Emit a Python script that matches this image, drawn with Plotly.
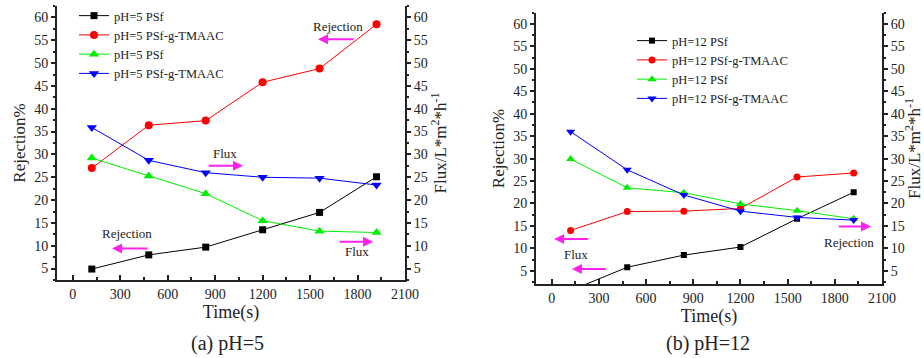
import plotly.graph_objects as go

time_s = [120, 480, 840, 1200, 1560, 1920]

# panel (a) pH=5
a_psf_rej = [4.9, 8.0, 9.7, 13.5, 17.3, 25.1]
a_tmaac_rej = [27.0, 36.4, 37.4, 45.8, 48.8, 58.5]
a_psf_flux = [29.2, 25.3, 21.4, 15.5, 13.2, 12.9]
a_tmaac_flux = [35.9, 28.7, 26.0, 25.0, 24.8, 23.3]

# panel (b) pH=12
b_psf_rej = [0.6, 5.8, 8.5, 10.3, 16.6, 22.5]
b_tmaac_rej = [14.0, 18.2, 18.3, 18.9, 25.9, 26.8]
b_psf_flux = [29.9, 23.5, 22.4, 19.9, 18.4, 16.6]
b_tmaac_flux = [36.0, 27.5, 21.9, 18.3, 16.9, 16.3]

names_a = ["pH=5 PSf", "pH=5 PSf-g-TMAAC", "pH=5 PSf", "pH=5 PSf-g-TMAAC"]
names_b = ["pH=12 PSf", "pH=12 PSf-g-TMAAC", "pH=12 PSf", "pH=12 PSf-g-TMAAC"]

colors = ["#000000", "#ff0000", "#00ee00", "#0000ff"]
symbols = ["square", "circle", "triangle-up", "triangle-down"]
sizes = [7, 8, 9, 9]

FONT = "Liberation Serif"
MAG = "#ff22ee"

fig = go.Figure()

series_a = [(a_psf_rej, "y"), (a_tmaac_rej, "y"), (a_psf_flux, "y2"), (a_tmaac_flux, "y2")]
series_b = [(b_psf_rej, "y3"), (b_tmaac_rej, "y3"), (b_psf_flux, "y4"), (b_tmaac_flux, "y4")]

for i, (vals, ya) in enumerate(series_a):
    fig.add_trace(go.Scatter(x=time_s, y=vals, xaxis="x", yaxis=ya, name=names_a[i],
                             mode="lines+markers", legend="legend",
                             line=dict(color=colors[i], width=1),
                             marker=dict(color=colors[i], symbol=symbols[i], size=sizes[i])))
for i, (vals, ya) in enumerate(series_b):
    fig.add_trace(go.Scatter(x=time_s, y=vals, xaxis="x2", yaxis=ya, name=names_b[i],
                             mode="lines+markers", legend="legend2",
                             line=dict(color=colors[i], width=1),
                             marker=dict(color=colors[i], symbol=symbols[i], size=sizes[i] - 1)))

W, H = 924, 358
tickfont = dict(family=FONT, size=14, color="#222")
titlefont = dict(family=FONT, size=17, color="#222")
xtitlefont = dict(family=FONT, size=18, color="#222")

def xax(domain, anchor):
    return dict(domain=domain, anchor=anchor, range=[-100, 2100], tickvals=list(range(0, 2101, 300)),
                showline=True, linecolor="#222", linewidth=2, ticks="inside", ticklen=5,
                tickcolor="#222", tickwidth=1.5, showgrid=False, zeroline=False, automargin=False,
                minor=dict(ticks="inside", ticklen=3, tickcolor="#222", dtick=150, tick0=0),
                tickfont=tickfont, title=dict(text="Time(s)", font=xtitlefont, standoff=0))

def yax(domain, anchor, rng, side, title, standoff, overlaying=None):
    d = dict(domain=domain, anchor=anchor, range=rng, side=side, automargin=False,
             tickvals=list(range(5, 61, 5)), showline=True, linecolor="#222", linewidth=2,
             ticks="outside", ticklen=4, tickcolor="#222", tickwidth=1.5,
             minor=dict(ticks="outside", ticklen=2, tickcolor="#222", dtick=2.5, tick0=0),
             showgrid=False, zeroline=False, tickfont=tickfont,
             title=dict(text=title, font=titlefont, standoff=standoff))
    if overlaying:
        d["overlaying"] = overlaying
    return d

dom_ax = [57 / W, 405 / W]
dom_ay = [1 - 280 / H, 1 - 6 / H]
dom_bx = [536 / W, 882 / W]
dom_by = [1 - 284.3 / H, 1 - 12.7 / H]

flux_title = "Flux/L*m<sup>2</sup>*h<sup>-1</sup>"

fig.update_layout(
    width=W, height=H, margin=dict(l=0, r=0, t=0, b=0, autoexpand=False),
    paper_bgcolor="white", plot_bgcolor="white",
    font=dict(family=FONT, color="#222"),
    xaxis=xax(dom_ax, "y"),
    yaxis=yax(dom_ay, "x", [2.5, 62.5], "left", "Rejection%", 4),
    yaxis2=yax(dom_ay, "x", [2.5, 62.5], "right", flux_title, 2, overlaying="y"),
    xaxis2=xax(dom_bx, "y3"),
    yaxis3=yax(dom_by, "x2", [2, 62.5], "left", "Rejection%", 4),
    yaxis4=yax(dom_by, "x2", [2, 62.5], "right", flux_title, 2, overlaying="y3"),
    legend=dict(x=74 / W, y=1 - 1 / H, xanchor="left", yanchor="top", bgcolor="rgba(0,0,0,0)",
                font=dict(family=FONT, size=12.5, color="#222"), tracegroupgap=0, itemwidth=30),
    legend2=dict(x=632 / W, y=1 - 26 / H, xanchor="left", yanchor="top", bgcolor="rgba(0,0,0,0)",
                 font=dict(family=FONT, size=12.5, color="#222"), tracegroupgap=0, itemwidth=30),
)

anns = []

def text(x, y, t, xr, yr):
    anns.append(dict(x=x, y=y, xref=xr, yref=yr, text=t, showarrow=False,
                     xanchor="center", yanchor="middle",
                     font=dict(family=FONT, size=13, color="#222")))

def arrow(x0, x1, y, xr, yr):
    anns.append(dict(x=x1, y=y, ax=x0, ay=y, xref=xr, yref=yr, axref=xr, ayref=yr, text="",
                     showarrow=True, arrowhead=2, arrowsize=1, arrowwidth=2, arrowcolor=MAG))

# panel (a)
text(1677, 58.1, "Rejection", "x", "y")
arrow(1784, 1550, 55.2, "x", "y")
text(963, 30.1, "Flux", "x", "y")
arrow(849, 1076, 27.5, "x", "y")
text(344, 12.6, "Rejection", "x", "y")
arrow(482, 248, 9.4, "x", "y")
text(1797, 8.7, "Flux", "x", "y")
arrow(1677, 1898, 10.9, "x", "y")

# panel (b)
arrow(242, 15, 12.1, "x2", "y3")
text(154, 8.6, "Flux", "x2", "y3")
arrow(354, 128, 5.4, "x2", "y3")
arrow(1815, 2030, 14.9, "x2", "y3")
text(1893, 11.3, "Rejection", "x2", "y3")

# panel captions
anns.append(dict(x=227 / W, y=1 - 343 / H, xref="paper", yref="paper", text="(a) pH=5",
                 xanchor="center", yanchor="middle",
                 showarrow=False, font=dict(family=FONT, size=20, color="#222")))
anns.append(dict(x=708 / W, y=1 - 343 / H, xref="paper", yref="paper", text="(b) pH=12",
                 xanchor="center", yanchor="middle",
                 showarrow=False, font=dict(family=FONT, size=20, color="#222")))

fig.update_layout(annotations=anns)

fig.write_html("out.html", config={"displayModeBar": False},
               post_script="document.body.style.margin='0';document.body.style.overflow='hidden';")
